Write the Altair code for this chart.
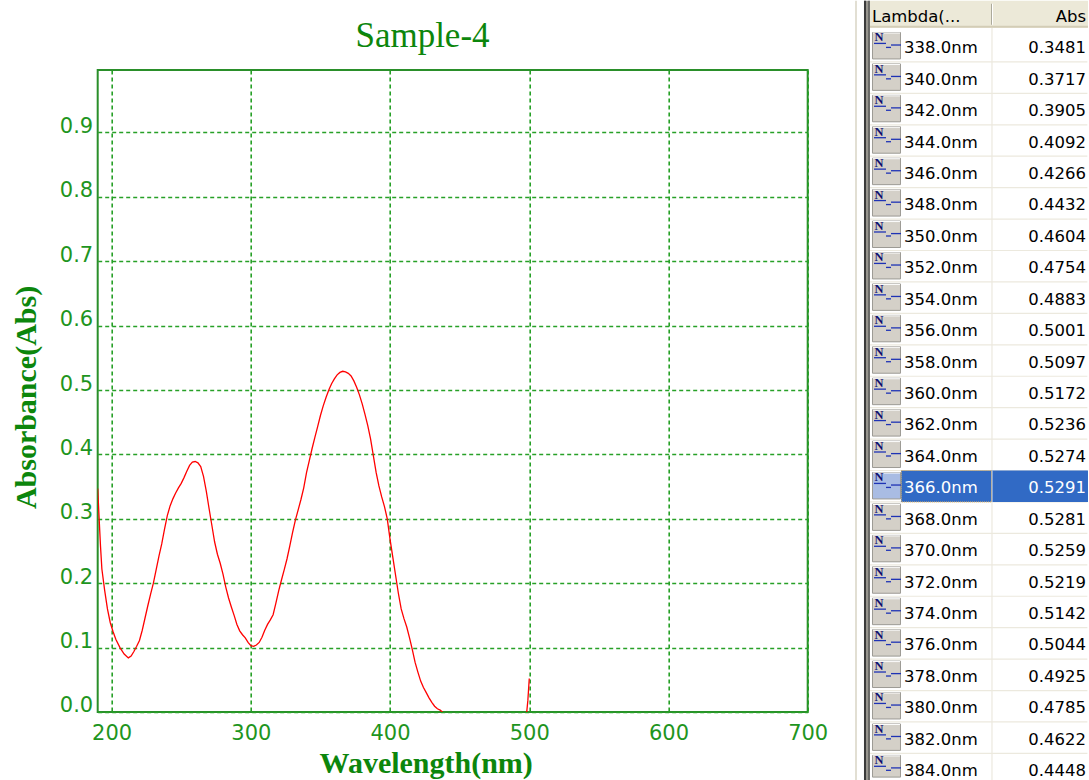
import altair as alt
import pandas as pd

# ---- absorbance scan, 190-500 nm -------------------------------------------
scan_nm_a = [190, 191, 192, 193, 195, 197, 199, 201, 203, 206, 209, 212, 214, 216,
             218, 220, 222, 224, 226, 228, 230, 232, 234, 236, 238, 240, 242, 244,
             246, 248, 250, 252, 254, 256, 258, 260, 262, 264, 266, 268, 270, 272,
             274, 276, 278, 280, 282, 284, 286, 288, 290, 292, 294, 296, 298, 300,
             302, 304, 306, 308, 310, 312, 314, 316, 318, 320, 322, 324, 326, 328,
             330, 332, 334, 336]
scan_abs_a = [0.347, 0.302, 0.258, 0.222, 0.189, 0.160, 0.139, 0.125, 0.113, 0.100,
              0.090, 0.084, 0.087, 0.094, 0.102, 0.111, 0.127, 0.146, 0.165, 0.183,
              0.200, 0.221, 0.242, 0.261, 0.284, 0.305, 0.320, 0.331, 0.340, 0.348,
              0.355, 0.364, 0.374, 0.383, 0.388, 0.389, 0.387, 0.381, 0.366, 0.343,
              0.316, 0.290, 0.264, 0.245, 0.231, 0.214, 0.194, 0.177, 0.163, 0.150,
              0.136, 0.126, 0.120, 0.115, 0.108, 0.103, 0.102, 0.104, 0.108, 0.116,
              0.127, 0.136, 0.143, 0.151, 0.169, 0.188, 0.205, 0.221, 0.238, 0.258,
              0.279, 0.298, 0.314, 0.330]

# tabulated readings around the main band
table_nm = [338, 340, 342, 344, 346, 348, 350, 352, 354, 356, 358, 360,
            362, 364, 366, 368, 370, 372, 374, 376, 378, 380, 382, 384]
table_abs = [0.3481, 0.3717, 0.3905, 0.4092, 0.4266, 0.4432, 0.4604, 0.4754,
             0.4883, 0.5001, 0.5097, 0.5172, 0.5236, 0.5274, 0.5291, 0.5281,
             0.5259, 0.5219, 0.5142, 0.5044, 0.4925, 0.4785, 0.4622, 0.4448]
selected_nm = 366

scan_nm_b = [386, 388, 390, 392, 394, 396, 398, 400, 402, 404, 406, 408, 410, 412,
             414, 416, 418, 420, 422, 424, 426, 428, 430, 432, 434, 436, 438, 440,
             450, 460, 470, 480, 490, 498, 499, 500]
scan_abs_b = [0.424, 0.398, 0.372, 0.351, 0.334, 0.319, 0.300, 0.268, 0.240, 0.212,
              0.184, 0.160, 0.145, 0.132, 0.115, 0.097, 0.077, 0.062, 0.048, 0.038,
              0.030, 0.022, 0.015, 0.009, 0.005, 0.003, -0.001, -0.004, -0.005,
              -0.005, -0.005, -0.005, -0.005, -0.004, 0.018, 0.052]

x_ticks = [200, 300, 400, 500, 600, 700]
y_ticks = [0.0, 0.1, 0.2, 0.3, 0.4, 0.5, 0.6, 0.7, 0.8, 0.9]
chart_title = "Sample-4"

spectrum = pd.DataFrame({
    "nm": scan_nm_a + table_nm + scan_nm_b,
    "abs": scan_abs_a + table_abs + scan_abs_b,
})

GREEN_TITLE = "#0C860C"
GREEN_LABEL = "#1E951E"
GREEN_GRID = "#27A027"
GREEN_FRAME = "#2A8F2A"

PLOT_TOP = 69.3   # vertical offset of the plot area inside the page

# ---- spectrum panel ---------------------------------------------------------
curve = alt.Chart(spectrum).mark_line(
    color="#FF0000", strokeWidth=1.3, clip=True
).encode(
    x=alt.X(
        "nm:Q",
        scale=alt.Scale(domain=[190, 700], nice=False, zero=False),
        axis=alt.Axis(
            values=x_ticks, format="d", title="Wavelength(nm)",
            grid=True, gridColor=GREEN_GRID, gridDash=[4, 3], gridWidth=1.6,
            domain=False, ticks=False, labelOverlap=False, labelFlush=False,
            labelPadding=11, labelFont="DejaVu Sans", labelFontSize=21,
            labelColor=GREEN_LABEL,
            titleFont="Liberation Serif", titleFontSize=30, titleFontWeight="bold",
            titleColor=GREEN_TITLE, titleX=328, titleY=61, titleAlign="center",
            titleBaseline="alphabetic",
        ),
    ),
    y=alt.Y(
        "abs:Q",
        scale=alt.Scale(domain=[0, 0.997], nice=False, zero=False),
        axis=alt.Axis(
            values=y_ticks, format=".1f", title="Absorbance(Abs)",
            grid=True, gridColor=GREEN_GRID, gridDash=[4, 3], gridWidth=1.6,
            domain=False, ticks=False, labelOverlap=False, labelFlush=False,
            labelPadding=5, labelFont="DejaVu Sans", labelFontSize=21,
            labelColor=GREEN_LABEL, labelBaseline="alphabetic",
            titleFont="Liberation Serif", titleFontSize=30, titleFontWeight="bold",
            titleColor=GREEN_TITLE, titleAngle=270, titleX=-61.7, titleY=327,
            titleAlign="center", titleBaseline="alphabetic",
        ),
    ),
)

title_mark = alt.Chart(pd.DataFrame({"t": [chart_title]})).mark_text(
    font="Liberation Serif", fontSize=35, color=GREEN_TITLE,
    align="center", baseline="alphabetic",
).encode(text="t:N", x=alt.value(324.8), y=alt.value(46.7 - PLOT_TOP))

spectrum_chart = alt.layer(curve, title_mark).properties(
    width=710,
    height=642,
    view=alt.ViewBackground(stroke=GREEN_FRAME, strokeWidth=2),
)

# ---- readings list ----------------------------------------------------------
rows = pd.DataFrame({
    "idx": list(range(len(table_nm))),
    "lam": [f"{v:.1f}nm" for v in table_nm],
    "val": [f"{v:.4f}" for v in table_abs],
    "sel": [int(v == selected_nm) for v in table_nm],
})
rows["top"] = rows["idx"] - 0.5
rows["bot"] = rows["idx"] + 0.5

# rows are 31.43 px apart; the list continues past the bottom of the page
ROW = alt.Scale(domain=[0.757, 21.183], reverse=True, nice=False, zero=False)


def Y(field):
    return alt.Y(f"{field}:Q", scale=ROW, axis=None)


def py(v):
    """page y -> local y of the list panel"""
    return alt.value(v - PLOT_TOP)


def strip(x0, x1, y0, y1, color):
    return one.mark_rect(color=color).encode(
        x=alt.value(x0), x2=alt.value(x1), y=py(y0), y2=py(y1))


base = alt.Chart(rows)
one = alt.Chart(pd.DataFrame({"k": [0]}))

panel_edge = strip(1, 3, 0, 780, "#E2DFD3")
border_fill = strip(10, 16, 0, 780, "#97958E")
border_a = strip(10, 12, 0, 780, "#3A3A3A")
border_b = strip(14.4, 15.6, 0, 780, "#4E4E4E")
col_line = strip(137.4, 138.6, 27, 780, "#ECE9DE")

header_bg = strip(16, 234, 0, 27, "#ECE9D8")
header_line = strip(16, 234, 25, 27, "#D3CDB6")
header_sep = strip(137, 138, 3, 24, "#ACA899")
header_sep_hi = strip(138, 139, 3, 24, "#FFFFFF")
header_lam = one.mark_text(
    text="Lambda(...", font="DejaVu Sans", fontSize=16.5, color="#000000",
    align="left", baseline="alphabetic").encode(x=alt.value(18), y=py(21))
header_abs = one.mark_text(
    text="Abs", font="DejaVu Sans", fontSize=16.5, color="#000000",
    align="right", baseline="alphabetic").encode(x=alt.value(232), y=py(21))

row_lines = base.transform_filter("datum.idx < 23").mark_rule(
    color="#ECE9DE", strokeWidth=1.2).encode(
    y=Y("bot"), x=alt.value(16), x2=alt.value(233.4))

sel_band = base.transform_filter("datum.sel == 1").mark_rect(color="#316AC5").encode(
    y=Y("top"), y2=alt.Y2("bot"), x=alt.value(47), x2=alt.value(234))
sel_col = base.transform_filter("datum.sel == 1").mark_rule(
    color="#C9D4EA", strokeWidth=1.2).encode(
    y=Y("top"), y2=alt.Y2("bot"), x=alt.value(138))
sel_focus = base.transform_filter("datum.sel == 1").mark_rect(
    filled=False, stroke="#E3B766", strokeDash=[1, 1], strokeWidth=1).encode(
    y=Y("top"), y2=alt.Y2("bot"), x=alt.value(47.5), x2=alt.value(137.5))

icon = base.transform_calculate(low="min(datum.bot, 23.35)").mark_rect(
    yOffset=2, y2Offset=-3, stroke="#9C9A94", strokeWidth=1).encode(
    y=Y("top"), y2=alt.Y2("low:Q"), x=alt.value(18.5), x2=alt.value(46.5),
    fill=alt.condition("datum.sel == 1", alt.value("#A9BCE3"), alt.value("#D4D0C8")))
icon_hi = base.mark_rule(color="#FFFFFF", strokeWidth=1, yOffset=2.5).encode(
    y=Y("top"), x=alt.value(19), x2=alt.value(46))
icon_n = base.mark_text(
    text="N", font="Liberation Serif", fontWeight="bold", fontSize=12.5,
    color="#101070", align="left", baseline="alphabetic", dy=-4.8).encode(
    y=Y("idx"), x=alt.value(20.5))
wave_1 = base.mark_rule(color="#1F33B5", strokeWidth=1.3, yOffset=-2.8).encode(
    y=Y("idx"), x=alt.value(20), x2=alt.value(32))
wave_2 = base.mark_rule(color="#1F33B5", strokeWidth=1.3, yOffset=1.2).encode(
    y=Y("idx"), x=alt.value(32), x2=alt.value(37))
wave_3 = base.mark_rule(color="#1F33B5", strokeWidth=1.3, yOffset=-1.2).encode(
    y=Y("idx"), x=alt.value(37), x2=alt.value(47))

txt_color = alt.condition("datum.sel == 1", alt.value("#FFFFFF"), alt.value("#000000"))
lam_text = base.mark_text(
    font="DejaVu Sans", fontSize=16.5, align="left", baseline="alphabetic", dy=7).encode(
    y=Y("idx"), x=alt.value(50), text="lam:N", color=txt_color)
val_text = base.mark_text(
    font="DejaVu Sans", fontSize=16.5, align="right", baseline="alphabetic", dy=7).encode(
    y=Y("idx"), x=alt.value(232), text="val:N", color=txt_color)

table_chart = alt.layer(
    panel_edge, border_fill, border_a, border_b,
    row_lines, col_line, sel_band, sel_col, sel_focus,
    icon, icon_hi, icon_n, wave_1, wave_2, wave_3,
    lam_text, val_text,
    header_bg, header_line, header_sep, header_sep_hi, header_lam, header_abs,
).properties(width=234, height=642)

chart = alt.hconcat(spectrum_chart, table_chart, spacing=24.3).properties(
    padding={"left": 10.7, "top": 0, "right": 0, "bottom": 0},
    background="white",
).configure_view(stroke=None)

chart.save("out.html", embed_options={"renderer": "svg", "actions": False})
